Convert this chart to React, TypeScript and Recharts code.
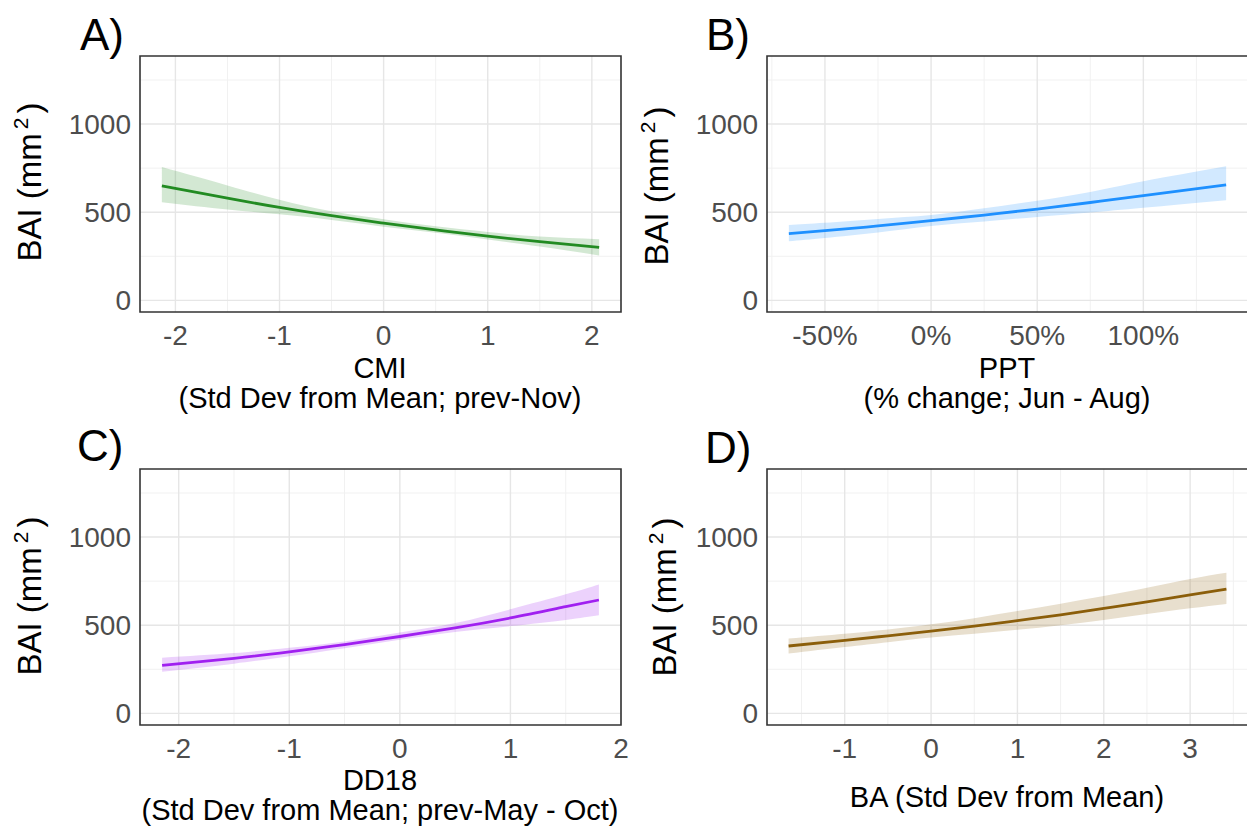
import React from 'react';
import { ComposedChart, Area, Line, XAxis, YAxis, CartesianGrid, ReferenceArea } from 'recharts';

// A) CMI (std dev from mean, prev-Nov)
const cmiX = [-2.13, -1.5, -1, -0.5, 0, 0.5, 1, 1.5, 2.07];
const cmiFit = [650, 580, 527, 480, 438, 400, 364, 333, 300];
const cmiLow = [556, 515, 488, 456, 418, 383, 345, 305, 255];
const cmiHigh = [756, 652, 570, 505, 460, 420, 388, 362, 347];

// B) PPT (% change, Jun - Aug)
const pptX = [-67, -50, -25, 0, 25, 50, 75, 100, 139];
const pptFit = [378, 395, 422, 452, 484, 518, 555, 594, 655];
const pptLow = [335, 354, 385, 422, 448, 473, 498, 525, 568];
const pptHigh = [428, 440, 462, 484, 522, 565, 615, 675, 760];

// C) DD18 (std dev from mean, prev-May - Oct)
const ddX = [-2.15, -1.5, -1, -0.5, 0, 0.5, 1, 1.5, 1.8];
const ddFit = [272, 312, 349, 390, 436, 485, 541, 605, 643];
const ddLow = [236, 282, 324, 370, 418, 462, 495, 530, 556];
const ddHigh = [316, 342, 372, 408, 458, 512, 590, 675, 731];

// D) BA (std dev from mean)
const baX = [-1.65, -1, -0.5, 0, 0.5, 1, 1.5, 2, 2.5, 3, 3.42];
const baFit = [382, 414, 440, 467, 495, 526, 559, 595, 633, 672, 705];
const baLow = [339, 376, 404, 430, 452, 474, 500, 530, 563, 596, 621];
const baHigh = [425, 452, 476, 505, 540, 580, 622, 665, 712, 762, 797];

const baiTicks = [0, 500, 1000];
const baiMinor = [250, 750, 1250];
const cmiTicks = [-2, -1, 0, 1, 2];
const cmiMinor = [-1.5, -0.5, 0.5, 1.5];
const pptTicks = [-50, 0, 50, 100];
const pptMinor = [-75, -25, 25, 75, 125];
const ddTicks = [-2, -1, 0, 1, 2];
const ddMinor = [-1.5, -0.5, 0.5, 1.5];
const baTicks = [-1, 0, 1, 2, 3];
const baMinor = [-1.5, -0.5, 0.5, 1.5, 2.5, 3.5];

const Y_DOMAIN = [-66, 1386];
const FONT = '"Liberation Sans", Arial, Helvetica, sans-serif';

function toRows(xs, fit, low, high) {
  return xs.map((x, i) => ({ x, fit: fit[i], band: [low[i], high[i]] }));
}

function Panel({ box, xDomain, xTicks, xMinor, xFmt, rows, color }) {
  const chartLeft = box.left - 140;
  const chartTop = box.top - 6;
  const width = box.right - chartLeft + 24;
  const height = box.bottom - chartTop + 44;
  const tickStyle = { fill: '#4d4d4d', fontSize: 28, fontFamily: FONT };
  return (
    <div style={{ position: 'absolute', left: chartLeft, top: chartTop }}>
      <ComposedChart width={width} height={height} data={rows} margin={{ top: 6, right: 24, bottom: 0, left: 80 }}>
        <CartesianGrid horizontalValues={baiMinor} verticalValues={xMinor} stroke="#f1f1f1" strokeWidth={1} />
        <CartesianGrid horizontalValues={baiTicks} verticalValues={xTicks} stroke="#e6e6e6" strokeWidth={1.4} />
        <XAxis
          type="number"
          dataKey="x"
          domain={xDomain}
          ticks={xTicks}
          allowDataOverflow
          interval={0}
          height={44}
          tickLine={false}
          axisLine={false}
          tickSize={0}
          tickMargin={13}
          tick={tickStyle}
          tickFormatter={xFmt}
        />
        <YAxis
          type="number"
          domain={Y_DOMAIN}
          ticks={baiTicks}
          allowDataOverflow
          interval={0}
          width={60}
          tickLine={false}
          axisLine={false}
          tickSize={0}
          tickMargin={9}
          tick={tickStyle}
        />
        <Area
          type="natural"
          dataKey="band"
          stroke="none"
          fill={color}
          fillOpacity={0.2}
          isAnimationActive={false}
        />
        <Line
          type="natural"
          dataKey="fit"
          stroke={color}
          strokeWidth={2.8}
          dot={false}
          activeDot={false}
          isAnimationActive={false}
        />
        <ReferenceArea
          x1={xDomain[0]}
          x2={xDomain[1]}
          y1={Y_DOMAIN[0]}
          y2={Y_DOMAIN[1]}
          fill="none"
          stroke="#333333"
          strokeWidth={1.6}
          ifOverflow="visible"
        />
      </ComposedChart>
    </div>
  );
}

function Label({ x, y, children }) {
  return (
    <div style={{ position: 'absolute', left: x, top: y, fontSize: 44, lineHeight: 1, color: '#000' }}>
      {children}
    </div>
  );
}

function YTitle({ cx, cy }) {
  return (
    <div
      style={{
        position: 'absolute',
        left: cx,
        top: cy,
        transform: 'translate(-50%, -50%) rotate(-90deg)',
        fontSize: 33,
        lineHeight: 1,
        whiteSpace: 'nowrap',
        color: '#000',
      }}
    >
      BAI (mm<span style={{ fontSize: 21, verticalAlign: 13, margin: '0 4px 0 4px' }}>2</span>)
    </div>
  );
}

function XTitle({ cx, cy, lines }) {
  return (
    <div
      style={{
        position: 'absolute',
        left: cx,
        top: cy,
        transform: 'translate(-50%, -50%)',
        fontSize: 29,
        lineHeight: '30px',
        whiteSpace: 'nowrap',
        textAlign: 'center',
        color: '#000',
      }}
    >
      {lines.map((l) => (
        <div key={l}>{l}</div>
      ))}
    </div>
  );
}

const fmtNum = (v) => String(v);
const fmtPct = (v) => `${v}%`;

export default function App() {
  return (
    <div
      style={{
        position: 'absolute',
        left: 0,
        top: 0,
        width: 1247,
        height: 828,
        overflow: 'hidden',
        background: '#fff',
        fontFamily: FONT,
      }}
    >
      <Panel
        box={{ left: 140, right: 621, top: 56, bottom: 312 }}
        xDomain={[-2.34, 2.28]}
        xTicks={cmiTicks}
        xMinor={cmiMinor}
        xFmt={fmtNum}
        rows={toRows(cmiX, cmiFit, cmiLow, cmiHigh)}
        color="#228b22"
      />
      <Panel
        box={{ left: 767, right: 1248, top: 56, bottom: 312 }}
        xDomain={[-77.3, 149.3]}
        xTicks={pptTicks}
        xMinor={pptMinor}
        xFmt={fmtPct}
        rows={toRows(pptX, pptFit, pptLow, pptHigh)}
        color="#1e90ff"
      />
      <Panel
        box={{ left: 140, right: 621, top: 469, bottom: 725 }}
        xDomain={[-2.35, 2.0]}
        xTicks={ddTicks}
        xMinor={ddMinor}
        xFmt={fmtNum}
        rows={toRows(ddX, ddFit, ddLow, ddHigh)}
        color="#a020f0"
      />
      <Panel
        box={{ left: 767, right: 1248, top: 469, bottom: 725 }}
        xDomain={[-1.9, 3.67]}
        xTicks={baTicks}
        xMinor={baMinor}
        xFmt={fmtNum}
        rows={toRows(baX, baFit, baLow, baHigh)}
        color="#8b5e0a"
      />

      <Label x={80} y={13}>A)</Label>
      <Label x={706} y={13}>B)</Label>
      <Label x={77} y={424}>C)</Label>
      <Label x={705} y={426}>D)</Label>

      <YTitle cx={28} cy={182} />
      <YTitle cx={655} cy={186} />
      <YTitle cx={28} cy={596} />
      <YTitle cx={663} cy={597} />

      <XTitle cx={380} cy={383} lines={['CMI', '(Std Dev from Mean; prev-Nov)']} />
      <XTitle cx={1007} cy={383} lines={['PPT', '(% change; Jun - Aug)']} />
      <XTitle cx={380} cy={795} lines={['DD18', '(Std Dev from Mean; prev-May - Oct)']} />
      <XTitle cx={1007} cy={797} lines={['BA (Std Dev from Mean)']} />
    </div>
  );
}
